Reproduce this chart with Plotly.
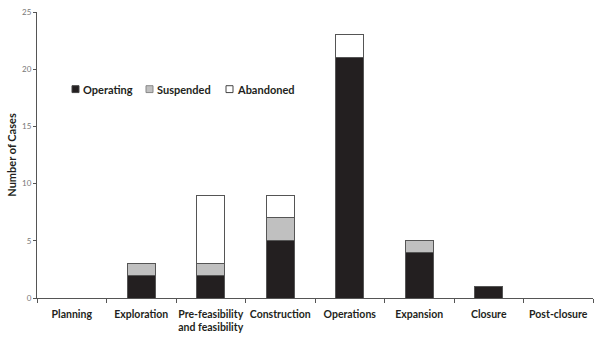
import plotly.graph_objects as go

categories = ["Planning", "Exploration", "Pre-feasibility<br>and feasibility", "Construction",
              "Operations", "Expansion", "Closure", "Post-closure"]
series_names = ["Operating", "Suspended", "Abandoned"]
operating = [0, 2, 2, 5, 21, 4, 1, 0]
suspended = [0, 1, 1, 2, 0, 1, 0, 0]
abandoned = [0, 0, 6, 2, 2, 0, 0, 0]
y_ticks = [0, 5, 10, 15, 20, 25]

colors = ["#231f20", "#c0c0c0", "#ffffff"]
edge = "#555555"

fig = go.Figure()
for name, vals, col in zip(series_names, [operating, suspended, abandoned], colors):
    fig.add_bar(x=categories, y=vals, name=name,
                marker=dict(color=col, line=dict(color=edge, width=1)), showlegend=False)

# custom compact legend (inside plot area, like the reference)
W, H, L, B = 556, 291, 37, 298  # plot width/height, left px, bottom px
def px_x(p):
    return (p - L) / W
def px_y(p):
    return (B - p) / H

legend_sq_x = [72, 146, 226]
legend_txt_x = [81, 155, 235]
for name, col, sx, tx in zip(series_names, colors, legend_sq_x, legend_txt_x):
    fig.add_shape(type="rect", xref="paper", yref="paper",
                  x0=px_x(sx), x1=px_x(sx + 7), y0=px_y(89), y1=px_y(82),
                  fillcolor=col, line=dict(color="#444444" if col != "#c0c0c0" else "#888888", width=1))
    fig.add_annotation(xref="paper", yref="paper", x=px_x(tx), y=px_y(85.5),
                       xanchor="left", yanchor="middle", showarrow=False, text=name,
                       font=dict(size=11, family="Lato", weight="bold", color="#231f20"))

fig.update_layout(
    width=600, height=342,
    barmode="stack", bargap=0.6,
    plot_bgcolor="white", paper_bgcolor="white",
    margin=dict(l=37, r=7, t=7, b=44),
    font=dict(family="Lato", color="#231f20"),
    showlegend=False,
    xaxis=dict(showline=True, linecolor=edge, linewidth=1, ticks="outside",
               tickson="boundaries", ticklen=4, tickcolor=edge, tickangle=0,
               ticklabelstandoff=6,
               tickfont=dict(size=10.5, family="Lato", weight="bold", color="#231f20"),
               showgrid=False, fixedrange=True),
    yaxis=dict(range=[0, 25.001], tickvals=y_ticks, showline=True, linecolor=edge, linewidth=1,
               ticks="outside", ticklen=3, tickcolor=edge,
               tickfont=dict(size=8, color="#777777"), showgrid=False, zeroline=False,
               title=dict(text="Number of Cases", font=dict(size=11, family="Lato", weight="bold"),
                          standoff=3)),
)
fig.write_html("out.html")
